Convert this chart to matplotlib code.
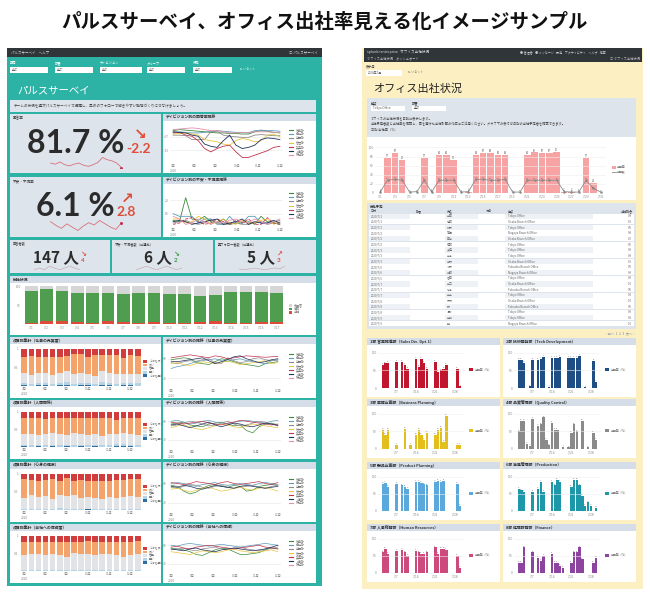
import matplotlib
matplotlib.use('Agg')
import matplotlib.pyplot as plt
from matplotlib.patches import Rectangle
import numpy as np

plt.rcParams['font.family'] = ['Noto Sans CJK JP', 'DejaVu Sans']

# ---------------- DATA ----------------
title = 'パルスサーベイ、オフィス出社率見える化イメージサンプル'

kpi_big = [('81.7 %', '-2.2', '↘', '回答率'), ('6.1 %', '2.8', '↗', '不安・不満率')]
spark1 = [60, 58, 62, 57, 55, 58, 60, 56, 54, 57, 61, 70, 66, 64, 60, 52]
spark2 = [62, 55, 50, 58, 52, 46, 54, 60, 56, 64, 58, 52, 48, 60]
kpi_small = [('147 人', '4', '↘', '#e04e39', '回答者数'),
             ('6 人', '2', '↘', '#3a9a3a', '不安・不満者数（前週比）'),
             ('5 人', '3', '↗', '#e04e39', '要フォロー者数（前週比）')]
spark_small = [[5, 6, 5, 7, 6, 5, 6, 7, 6, 5], [4, 5, 6, 5, 4, 5, 6, 5, 4, 5], [5, 4, 5, 6, 5, 4, 5, 6, 5, 8]]

line_x = list(range(18))
line_ticks = ['7月\n2020', '8月', '9月\n', '10月', '11月', '12月']
line_colors = ['#3a8a3a', '#5b9bb8', '#8c8c8c', '#e8c53a', '#c2334d', '#1f2f5a', '#e58fb0']
lc1 = [[88, 90, 89, 88, 87, 86, 85, 84, 84, 83, 83, 82, 82, 86, 88, 87, 85, 84],
       [85, 86, 85, 84, 84, 85, 87, 88, 87, 86, 85, 85, 84, 88, 89, 88, 88, 87],
       [80, 80, 79, 72, 72, 72, 86, 87, 80, 78, 77, 76, 76, 80, 81, 80, 79, 79],
       [82, 83, 84, 82, 80, 72, 70, 68, 64, 62, 70, 74, 72, 68, 70, 80, 82, 77],
       [84, 85, 80, 78, 70, 56, 50, 56, 60, 62, 50, 40, 40, 44, 48, 52, 58, 60],
       [86, 85, 84, 80, 78, 64, 60, 58, 70, 80, 62, 56, 58, 62, 72, 75, 74, 72],
       [90, 91, 92, 93, 92, 90, 88, 88, 86, 84, 84, 85, 85, 86, 86, 86, 85, 85]]
lc2 = [[5, 4, 22, 6, 5, 8, 4, 3, 6, 2, 3, 3, 4, 2, 8, 4, 3, 2],
       [10, 8, 8, 8, 3, 6, 6, 2, 2, 8, 3, 3, 8, 8, 3, 3, 4, 5],
       [3, 4, 5, 3, 2, 3, 6, 3, 2, 2, 3, 2, 2, 3, 4, 2, 3, 3],
       [6, 6, 3, 4, 8, 6, 2, 4, 6, 3, 2, 5, 3, 3, 5, 6, 2, 4],
       [2, 3, 6, 7, 4, 2, 3, 6, 4, 2, 5, 3, 6, 2, 2, 7, 3, 2],
       [4, 5, 4, 2, 3, 4, 5, 6, 2, 3, 4, 6, 2, 4, 3, 3, 5, 3],
       [8, 6, 2, 3, 6, 4, 2, 4, 3, 5, 6, 4, 3, 6, 4, 2, 4, 6]]
row_lines = [
    [[78, 80, 82, 80, 72, 70, 68, 74, 80, 78, 74, 70, 68, 66, 64, 70, 72, 74],
     [60, 64, 66, 70, 74, 76, 78, 80, 76, 74, 78, 80, 76, 74, 72, 70, 76, 78],
     [72, 70, 74, 76, 75, 78, 80, 72, 70, 82, 76, 72, 74, 80, 82, 78, 76, 77],
     [70, 72, 68, 66, 70, 74, 72, 70, 73, 75, 72, 68, 70, 72, 74, 76, 70, 72],
     [82, 84, 86, 88, 86, 84, 82, 86, 84, 80, 82, 84, 86, 85, 84, 83, 84, 85],
     [75, 74, 76, 78, 80, 82, 76, 70, 74, 78, 84, 86, 80, 76, 72, 74, 78, 80]],
    [[74, 76, 78, 72, 70, 68, 74, 76, 78, 74, 70, 72, 60, 55, 68, 74, 76, 72],
     [80, 82, 78, 74, 76, 80, 82, 78, 76, 74, 78, 80, 82, 80, 78, 76, 80, 82],
     [70, 72, 76, 80, 78, 74, 70, 72, 76, 80, 74, 70, 72, 76, 80, 78, 74, 72],
     [66, 70, 72, 68, 64, 62, 66, 70, 74, 72, 68, 66, 70, 74, 72, 70, 68, 66],
     [78, 76, 74, 76, 78, 80, 76, 74, 72, 76, 78, 82, 80, 78, 76, 74, 72, 74],
     [72, 74, 70, 66, 70, 74, 78, 72, 68, 72, 76, 74, 70, 68, 72, 76, 74, 70]],
    [[76, 74, 64, 58, 62, 70, 76, 78, 74, 72, 76, 74, 64, 66, 74, 76, 78, 76],
     [80, 82, 80, 76, 74, 78, 80, 82, 78, 76, 78, 80, 78, 76, 80, 82, 80, 78],
     [72, 70, 74, 78, 76, 72, 70, 74, 76, 72, 70, 72, 74, 76, 72, 70, 74, 76],
     [68, 70, 66, 62, 66, 70, 72, 68, 64, 66, 70, 72, 68, 66, 70, 72, 68, 64],
     [82, 80, 78, 80, 84, 82, 80, 78, 82, 84, 80, 78, 80, 82, 84, 80, 78, 82],
     [74, 72, 76, 74, 70, 68, 72, 76, 74, 72, 70, 74, 76, 74, 72, 70, 72, 74]],
    [[74, 72, 70, 66, 60, 58, 64, 70, 74, 72, 66, 60, 60, 62, 64, 70, 74, 72],
     [80, 78, 82, 84, 82, 80, 78, 80, 82, 80, 78, 76, 78, 80, 82, 84, 82, 80],
     [70, 72, 74, 70, 68, 72, 74, 76, 72, 70, 74, 76, 72, 70, 68, 72, 74, 76],
     [66, 64, 62, 60, 64, 68, 66, 64, 66, 70, 72, 68, 66, 64, 66, 68, 70, 66],
     [76, 78, 74, 72, 76, 78, 80, 78, 76, 74, 72, 74, 76, 78, 80, 76, 74, 72],
     [72, 70, 68, 72, 74, 70, 68, 66, 70, 72, 74, 72, 70, 68, 70, 72, 76, 80]]]
row_titles_left = ['項目別集計（仕事の充実度）', '項目別集計（人間関係）', '項目別集計（心身の健康）', '項目別集計（会社への信頼度）']
row_titles_right = ['ディビジョン別の推移（仕事の充実度）', 'ディビジョン別の推移（人間関係）',
                    'ディビジョン別の推移（心身の健康）', 'ディビジョン別の推移（会社への信頼）']

bar_x = list(range(17))
g_red = [3, 9, 9, 5, 3, 8, 5, 3, 5, 3, 3, 5, 9, 3, 3, 5, 5]
g_green = [84, 85, 78, 78, 79, 75, 75, 80, 77, 76, 76, 70, 69, 83, 83, 81, 77]

stack_db = [[2, 1, 2, 2, 1, 2, 3, 1, 2, 2, 1, 2, 2, 1, 2, 2, 1],
            [2, 1, 2, 1, 2, 1, 2, 1, 2, 1, 2, 1, 1, 2, 4, 2, 1],
            [1, 1, 1, 1, 1, 1, 1, 1, 1, 2, 1, 1, 1, 1, 1, 1, 1],
            [1, 1, 1, 1, 1, 1, 1, 1, 1, 1, 1, 1, 1, 1, 1, 1, 1]]
stack_lb = [[6, 5, 7, 6, 5, 6, 8, 5, 6, 5, 4, 9, 6, 5, 6, 5, 6],
            [4, 5, 4, 5, 3, 6, 5, 6, 5, 4, 5, 4, 5, 6, 5, 4, 6],
            [2, 3, 2, 2, 2, 4, 2, 3, 2, 2, 2, 2, 2, 3, 2, 2, 2],
            [2, 2, 2, 2, 2, 2, 2, 2, 2, 2, 2, 2, 2, 2, 2, 2, 2]]
stack_gr = [[26, 24, 27, 28, 24, 26, 30, 25, 27, 26, 22, 28, 26, 27, 25, 26, 24],
            [32, 30, 28, 30, 34, 30, 28, 32, 30, 28, 30, 26, 30, 28, 32, 30, 28],
            [30, 36, 34, 36, 28, 36, 36, 38, 30, 32, 30, 28, 32, 30, 32, 36, 32],
            [42, 44, 44, 42, 46, 42, 38, 48, 46, 44, 42, 44, 44, 42, 36, 42, 44]]
stack_or = [[44, 50, 42, 42, 48, 44, 40, 55, 51, 45, 55, 43, 50, 50, 43, 49, 50],
            [44, 46, 48, 44, 42, 45, 48, 42, 45, 50, 44, 50, 46, 40, 42, 46, 47],
            [52, 42, 44, 44, 54, 40, 48, 38, 50, 45, 48, 50, 46, 50, 48, 46, 50],
            [38, 36, 36, 38, 34, 38, 40, 32, 34, 38, 38, 36, 36, 38, 44, 36, 38]]
stack_labels = ['とても良い', '良い', '普通', '悪い', 'とても悪い']

day_x = list(range(31))
office_rate = [1, 77, 87, 72, 0, 0, 77, 1, 84, 84, 73, 0, 2, 84, 87, 88, 83, 84, 0, 0,
               84, 89, 87, 87, 90, 2, 2, 1, 77, 22, 0]
office_count = [2, 28, 30, 28, 2, 3, 28, 2, 28, 28, 28, 2, 3, 30, 30, 28, 28, 30, 2, 2,
                28, 28, 28, 28, 28, 3, 2, 2, 28, 10, 2]

dept_titles = ['1部 営業推進部（Sales Div. Dpt.1）', '2部 技術開発部（Tech Development）',
               '3部 業務企画部（Business Planning）', '4部 品質管理部（Quality Control）',
               '5部 製品企画部（Product Planning）', '6部 生産管理部（Production）',
               '7部 人事総務部（Human Resources）', '8部 経理財務部（Finance）']
dept_colors = ['#c0172e', '#1f4e85', '#e2bf1c', '#8a8a8a', '#5aa8dc', '#1c98a8', '#cc4a7c', '#8c449e']
dept_rates = [
    [0, 65, 70, 72, 0, 0, 75, 0, 75, 65, 55, 0, 0, 82, 60, 82, 72, 55, 0, 0, 75, 45, 50, 55, 65, 0, 0, 0, 55, 5, 0],
    [0, 80, 80, 72, 0, 5, 80, 0, 80, 82, 88, 0, 3, 85, 85, 85, 88, 0, 0, 85, 85, 85, 85, 92, 0, 2, 0, 0, 78, 18, 0],
    [0, 55, 40, 55, 0, 0, 12, 0, 0, 58, 0, 12, 0, 40, 55, 40, 25, 45, 0, 0, 40, 55, 60, 20, 95, 0, 0, 0, 12, 12, 0],
    [0, 50, 80, 80, 15, 8, 85, 0, 65, 70, 90, 25, 10, 75, 55, 55, 0, 7, 0, 5, 45, 70, 50, 0, 80, 0, 5, 0, 45, 25, 0],
    [0, 80, 82, 70, 0, 0, 80, 0, 75, 70, 65, 0, 0, 85, 85, 83, 78, 75, 0, 0, 85, 87, 85, 87, 0, 0, 0, 0, 80, 15, 0],
    [0, 65, 60, 55, 0, 0, 55, 0, 65, 85, 55, 0, 0, 85, 75, 90, 85, 0, 0, 0, 70, 90, 90, 75, 45, 15, 25, 15, 0, 10, 0],
    [0, 60, 70, 55, 0, 0, 65, 0, 68, 60, 50, 0, 0, 65, 60, 55, 55, 60, 0, 0, 75, 55, 70, 70, 68, 0, 0, 0, 50, 15, 0],
    [0, 30, 30, 75, 0, 0, 60, 0, 45, 35, 50, 0, 0, 55, 30, 30, 20, 15, 0, 0, 30, 60, 60, 75, 40, 0, 0, 0, 30, 45, 0]]

table_dates = ['2020/7/1', '2020/7/1', '2020/7/1', '2020/7/2', '2020/7/2', '2020/7/2', '2020/7/3',
               '2020/7/3', '2020/7/3', '2020/7/6', '2020/7/6', '2020/7/6', '2020/7/7', '2020/7/7',
               '2020/7/7', '2020/7/8', '2020/7/8', '2020/7/8', '2020/7/9', '2020/7/9']
table_names = ['山田', '佐藤', '鈴木', '高橋', '田中', '伊藤', '渡辺', '山本', '中村', '小林',
               '加藤', '吉田', '山口', '松本', '井上', '木村', '林', '清水', '山崎', '森']
table_place = ['Tokyo Office', 'Osaka Branch Office', 'Tokyo Office', 'Nagoya Branch Office',
               'Osaka Branch Office', 'Tokyo Office', 'Tokyo Office', 'Tokyo Office',
               'Osaka Branch Office', 'Fukuoka Branch Office', 'Nagoya Branch Office', 'Tokyo Office',
               'Osaka Branch Office', 'Fukuoka Branch Office', 'Tokyo Office', 'Osaka Branch Office',
               'Fukuoka Branch Office', 'Tokyo Office', 'Tokyo Office', 'Nagoya Branch Office']
table_vals = ['0.8', '1.0', '0.5', '0.8', '1.0', '0.5', '0.8', '0.8', '1.0', '0.5',
              '0.8', '0.8', '1.0', '0.5', '0.8', '1.0', '0.5', '0.8', '0.8', '1.0']

# ---------------- LAYOUT ----------------
W, H = 650, 592
fig = plt.figure(figsize=(6.5, 5.92), dpi=100)
fig.patch.set_facecolor('white')
bg = fig.add_axes([0, 0, 1, 1])
bg.set_xlim(0, W)
bg.set_ylim(H, 0)
bg.axis('off')
bg.set_zorder(-10)
renderer = fig.canvas.get_renderer()

TEAL = '#2db3a5'
PANEL = '#dde4ec'
HEAD = '#d5dee8'
YEL = '#fcefc2'
DARK = '#2f3538'
RED = '#e04e39'


def rect(x0, y0, x1, y1, color, z=1, **kw):
    bg.add_patch(Rectangle((x0, y0), x1 - x0, y1 - y0, facecolor=color, edgecolor='none', zorder=z, **kw))


def txt(x, y, s, size=3, color='#555555', **kw):
    return bg.text(x, y, s, fontsize=size, color=color, zorder=5, **kw)


def right_edge(t):
    return t.get_window_extent(renderer=renderer).x1


def mkax(x0, y0, x1, y1):
    a = fig.add_axes([x0 / W, 1 - y1 / H, (x1 - x0) / W, (y1 - y0) / H])
    a.set_facecolor('white')
    for s in a.spines.values():
        s.set_visible(False)
    a.tick_params(length=0, labelsize=2.3, colors='#888888', pad=1)
    return a


def chart_panel(x0, y0, x1, y1, title):
    rect(x0, y0, x1, y0 + 7, HEAD, z=2)
    rect(x0, y0 + 7, x1, y1, 'white', z=2)
    txt(x0 + 3, y0 + 3.6, title, size=2.8, color='#333333', va='center', weight='bold')


def legend_lines(x, y, colors, labels, step=4.2):
    for i, (c, l) in enumerate(zip(colors, labels)):
        bg.plot([x, x + 4], [y + i * step, y + i * step], color=c, lw=0.8, zorder=6)
        txt(x + 7, y + i * step, l, size=2.2, color='#777777', va='center')


# Title
bg.text(325, 22, title, fontsize=14, weight='bold', ha='center', va='center',
        color='#111111', family=['Noto Sans CJK JP', 'DejaVu Sans'])

# ========== LEFT DASHBOARD ==========
rect(7, 57, 322, 586, TEAL, z=0)
rect(7, 48, 322, 57, DARK, z=1)
txt(11, 52.5, 'パルスサーベイ    ヘルプ', size=2.5, color='#dddddd', va='center')
txt(318, 52.5, '◯ パルスサーベイ', size=2.5, color='#dddddd', va='center', ha='right')
filters = [('期間', 10, 48), ('部署', 55, 93), ('ディビジョン', 100, 142), ('グループ', 147, 185), ('役職', 193, 232)]
for lab, a, b in filters:
    txt(a, 63, lab, size=2.3, color='white', va='center')
    rect(a, 66.5, b, 73, 'white', z=2)
    txt(a + 2, 69.8, '全て', size=2.2, color='#666666', va='center')
txt(240, 69.8, '↻ リセット', size=2.2, color='#e8f5f3', va='center')
txt(17, 90, 'パルスサーベイ', size=7.5, color='white', va='center')
rect(10, 100, 316, 112, PANEL, z=2)
txt(14, 106, 'チームの状況を週次パルスサーベイで把握し、早めのフォローで働きやすい職場づくりにつなげましょう。', size=2.6, color='#444444', va='center')

# KPI big panels
kpi_boxes = [(10, 114, 161, 173), (10, 177, 161, 237)]
kpi_centers = [76, 75]
sparks = [spark1, spark2]
for (x0, y0, x1, y1), (big, delta, arrow, lab), sp, cx in zip(kpi_boxes, kpi_big, sparks, kpi_centers):
    rect(x0, y0, x1, y1, PANEL, z=2)
    txt(x0 + 3, y0 + 4, lab, size=2.6, color='#333333', va='center')
    t = bg.text(cx, y0 + 39, big, fontsize=23, weight='bold', color='#2b2b2b', ha='center',
                va='baseline', family='Lato', zorder=5)
    rx = right_edge(t) + 2
    td = bg.text(rx, y0 + 39, delta, fontsize=10, weight='bold', color=RED, ha='left',
                 va='baseline', family='Lato', zorder=5)
    bb = td.get_window_extent(renderer=renderer)
    top = H - bb.y1
    bg.text((bb.x0 + bb.x1) / 2 + 1, top - 0.5, arrow, fontsize=11, weight='bold', color=RED, ha='center',
            va='bottom', family='DejaVu Sans', zorder=5)
    sa = fig.add_axes([(x0 + 37) / W, 1 - (y0 + 54) / H, 78 / W, 11 / H])
    sa.axis('off')
    sa.plot(range(len(sp)), sp, color='#d9707a', lw=0.6)
    sa.plot([len(sp) - 1], [sp[-1]], 'o', color='#c0334d', ms=1.2)

# KPI small panels
small_boxes = [(10, 240, 110, 273), (112, 240, 213, 273), (215, 240, 316, 273)]
for (x0, y0, x1, y1), (big, delta, arrow, col, lab), sp in zip(small_boxes, kpi_small, spark_small):
    rect(x0, y0, x1, y1, PANEL, z=2)
    txt(x0 + 3, y0 + 4, lab, size=2.3, color='#333333', va='center')
    t = bg.text(x0 + 46, y0 + 22, big, fontsize=11, weight='bold', color='#2b2b2b', ha='center',
                va='baseline', zorder=5)
    rx = right_edge(t) + 4
    bg.text(rx, y0 + 14.5, arrow, fontsize=5, weight='bold', color=col, ha='center',
            va='center', family='DejaVu Sans', zorder=5)
    bg.text(rx, y0 + 22, delta, fontsize=4.5, weight='bold', color=col, ha='center',
            va='baseline', family='Lato', zorder=5)
    sa = fig.add_axes([(x0 + 22) / W, 1 - (y0 + 30) / H, 50 / W, 4 / H])
    sa.axis('off')
    sa.plot(range(len(sp)), sp, color='#c8a0a8', lw=0.4)

# Line chart panels (top)
series_labels = ['営業部', '開発部', '企画部', '管理部', '製造部', '人事部', '総務部']
for (y0, y1), data, ttl, ylim in [((114, 173), lc1, 'ディビジョン別の回答率推移', (30, 100)),
                                  ((177, 237), lc2, 'ディビジョン別の不安・不満率推移', (0, 30))]:
    chart_panel(163, y0, 316, y1, ttl)
    a = mkax(170, y0 + 10, 283, y1 - 10)
    for s, c in zip(data, line_colors):
        ls = '--' if (ylim[1] == 30 and c == '#c2334d') else '-'
        a.plot(line_x, s, color=c, lw=0.6, ls=ls)
    a.set_ylim(*ylim)
    a.set_xlim(-0.5, 17.5)
    a.set_xticks([0, 3.4, 6.8, 10.2, 13.6, 17])
    a.set_xticklabels(line_ticks)
    a.set_yticks(np.linspace(ylim[0], ylim[1], 4)[1:-1])
    a.grid(axis='y', color='#e6e6e6', lw=0.4)
    legend_lines(289, y0 + 16, line_colors, series_labels)

# Green stacked bar chart
chart_panel(10, 276, 316, 335, '出社状況')
a = mkax(22, 286, 286, 324)
g_gray = [100 - r - g for r, g in zip(g_red, g_green)]
a.bar(bar_x, g_red, color='#df4b3a', width=0.82)
a.bar(bar_x, g_green, bottom=g_red, color='#4f9e4f', width=0.82)
a.bar(bar_x, g_gray, bottom=[r + g for r, g in zip(g_red, g_green)], color='#d6d6d6', width=0.82)
a.set_xlim(-0.6, 16.6)
a.set_ylim(0, 101)
a.set_yticks([50, 100])
a.set_xticks(bar_x)
a.set_xticklabels(['7/%d' % (i + 1) for i in bar_x])
for i, (c, l) in enumerate(zip(['#d6d6d6', '#4f9e4f', '#df4b3a'], ['未回答', '在宅', '出社'])):
    rect(289, 304 + i * 3.5, 292, 306.5 + i * 3.5, c, z=6)
    txt(294, 305.3 + i * 3.5, l, size=2.2, color='#777777', va='center')

# Rows of stacked bars + line charts
rows = [(337, 398), (400, 459), (462, 522), (524, 583)]
stack_colors = ['#2f6e9e', '#b5d3e6', '#e2e3e7', '#f4a36b', '#d13c3c']
for k, (y0, y1) in enumerate(rows):
    chart_panel(10, y0, 161, y1, row_titles_left[k])
    a = mkax(20, y0 + 11, 142, y1 - 12)
    bottom = np.zeros(17)
    red = [100 - d - l - g - o for d, l, g, o in zip(stack_db[k], stack_lb[k], stack_gr[k], stack_or[k])]
    for vals, c in zip([stack_db[k], stack_lb[k], stack_gr[k], stack_or[k], red], stack_colors):
        a.bar(bar_x, vals, bottom=bottom, color=c, width=0.8)
        bottom = bottom + np.array(vals)
    a.set_xlim(-0.6, 16.6)
    a.set_ylim(0, 102)
    a.set_yticks([50, 100])
    a.set_yticklabels(['0.5', '1'])
    a.set_xticks([0, 3, 6, 9, 12, 15])
    a.set_xticklabels(['7月\n2020', '8月', '9月', '10月', '11月', '12月'])
    for i, (c, l) in enumerate(zip(stack_colors[::-1], stack_labels)):
        rect(143, y0 + 23 + i * 3.6, 147, y0 + 25.8 + i * 3.6, c, z=6)
        txt(149, y0 + 24.4 + i * 3.6, l, size=2.1, color='#777777', va='center')

    chart_panel(163, y0, 316, y1, row_titles_right[k])
    a = mkax(168, y0 + 12, 281, y1 - 10)
    for s, c in zip(row_lines[k], line_colors):
        a.plot(line_x, s, color=c, lw=0.5)
    a.set_ylim(20, 100)
    a.set_xlim(-0.5, 17.5)
    a.set_yticks([40, 80])
    a.set_xticks([0, 3.4, 6.8, 10.2, 13.6, 17])
    a.set_xticklabels(line_ticks)
    a.grid(axis='y', color='#e6e6e6', lw=0.4)
    legend_lines(289, y0 + 17, line_colors, series_labels, step=4.0)

# ========== RIGHT DASHBOARD ==========
rect(362, 48, 643, 589, YEL, z=0)
rect(364, 48, 642, 62, DARK, z=1)
txt(367, 52, 'splunk>enterprise   オフィス出社状況', size=2.6, color='#dddddd', va='center')
txt(520, 52, '● 管理者    ● メッセージ    設定    アクティビティ    ヘルプ    検索', size=2.2, color='#cccccc', va='center')
txt(367, 58.5, 'オフィス出社状況    ダッシュボード', size=2.3, color='#bbbbbb', va='center')
txt(640, 58.5, '◯ オフィス出社状況', size=2.3, color='#bbbbbb', va='center', ha='right')
txt(366, 67, '表示月', size=2.3, color='#444444', va='center')
rect(366, 69.5, 402, 75.5, 'white', z=2)
txt(368, 72.5, '2020年7月', size=2.2, color='#555555', va='center')
txt(408, 72.5, '↻ リセット', size=2.2, color='#777777', va='center')
txt(373, 88.5, 'オフィス出社状況', size=8, color='#222222', va='center')

rect(367, 98, 636, 137, PANEL, z=1)
txt(371, 103, '拠点', size=2.3, color='#333333', va='center')
rect(371, 105.5, 405, 110.5, 'white', z=2)
txt(373, 108, 'Tokyo Office', size=2.2, color='#555555', va='center')
txt(412, 103, '部署', size=2.3, color='#333333', va='center')
rect(412, 105.5, 446, 110.5, 'white', z=2)
txt(414, 108, '全て', size=2.2, color='#555555', va='center')
txt(371, 118, 'オフィスの出社状況を日別に表示します。', size=2.3, color='#444444', va='center')
txt(371, 124, '出社予定者数と出社率を確認し、密を避けた出社計画の作成にご活用ください。グラフ下の表では日別の出社予定者を確認できます。', size=2.3, color='#444444', va='center')
txt(371, 130, '日別 出社率（%）', size=2.3, color='#444444', va='center')

rect(367, 137, 636, 200, 'white', z=1)
a = mkax(375, 142, 606, 193)
a.bar(day_x, office_rate, color='#f8a3a3', width=0.88)
a.plot(day_x, office_count, color='#8a8a8a', lw=0.6, marker='o', ms=0.8)
for i, (v, c) in enumerate(zip(office_rate, office_count)):
    if v > 0:
        a.text(i, v + 2, str(v), fontsize=1.8, ha='center', color='#555555')
    a.text(i, c + 2, str(c), fontsize=1.6, ha='center', color='#555555')
a.set_ylim(0, 112)
a.set_xlim(-0.7, 30.7)
a.set_yticks([0, 20, 40, 60, 80, 100])
a.set_xticks(day_x[::2])
a.set_xticklabels(['7/%d' % (i + 1) for i in day_x[::2]])
a.grid(axis='y', color='#eeeeee', lw=0.4)
rect(612, 166, 616, 169, '#f8a3a3', z=6)
txt(617, 167.5, '出社率', size=2.1, color='#666666', va='center')
bg.plot([612, 616], [171.5, 171.5], color='#8a8a8a', lw=0.6, zorder=6)
txt(617, 171.5, '出社数', size=2.1, color='#666666', va='center')

# table
rect(367, 203, 636, 329, PANEL, z=1)
txt(370, 206.5, '出社予定', size=2.4, color='#333333', va='center', weight='bold')
cols = [(370, '日付'), (416, '部署'), (447, '氏名'), (486, '役職'), (508, '拠点')]
for x, h in cols:
    txt(x, 211, h, size=2.2, color='#444444', va='center')
txt(633, 211, '出社割合', size=2.2, color='#444444', va='center', ha='right')
rh = 5.65
for i in range(20):
    yy = 213.5 + i * rh
    rect(369, yy, 634, yy + rh - 0.4, 'white', z=2)
    if i % 2 == 0:
        rect(369, yy, 410, yy + rh - 0.4, '#eef1f5', z=3)
        rect(445, yy, 478, yy + rh - 0.4, '#eef1f5', z=3)
        rect(505, yy, 593, yy + rh - 0.4, '#eef1f5', z=3)
    txt(371, yy + rh / 2, table_dates[i], size=2.1, color='#666666', va='center')
    txt(447, yy + rh / 2, table_names[i], size=2.1, color='#666666', va='center')
    txt(508, yy + rh / 2, table_place[i], size=2.1, color='#666666', va='center')
    txt(632, yy + rh / 2, table_vals[i], size=2.1, color='#666666', va='center', ha='right')
txt(634, 333, '‹ 前へ  1  2  3  次へ ›', size=2.3, color='#7a8a9a', va='center', ha='right')

# department charts
rrows = [(338, 397), (399, 458), (462, 520), (524, 582)]
k = 0
for (y0, y1) in rrows:
    for (x0, x1) in [(367, 500), (503, 636)]:
        chart_panel(x0, y0, x1, y1, dept_titles[k])
        a = mkax(x0 + 11, y0 + 13, x1 - 35, y1 - 9)
        a.bar(day_x, dept_rates[k], color=dept_colors[k], width=0.85)
        for i, v in enumerate(dept_rates[k]):
            if v > 0:
                a.text(i, v + 2, str(v), fontsize=1.5, ha='center', color='#666666')
        a.set_ylim(0, 105)
        a.set_xlim(-0.7, 30.7)
        a.set_yticks([0, 50, 100])
        a.set_xticks([6, 13, 20, 27])
        a.set_xticklabels(['7/7', '7/14', '7/21', '7/28'])
        a.grid(axis='y', color='#eeeeee', lw=0.4)
        ym = (y0 + y1) / 2 + 2
        rect(x1 - 31, ym - 1.5, x1 - 27, ym + 1.5, dept_colors[k], z=6)
        txt(x1 - 25, ym, '出社率（%）', size=2.1, color='#666666', va='center')
        k += 1

fig.savefig('out.png', dpi=100, facecolor='white')
